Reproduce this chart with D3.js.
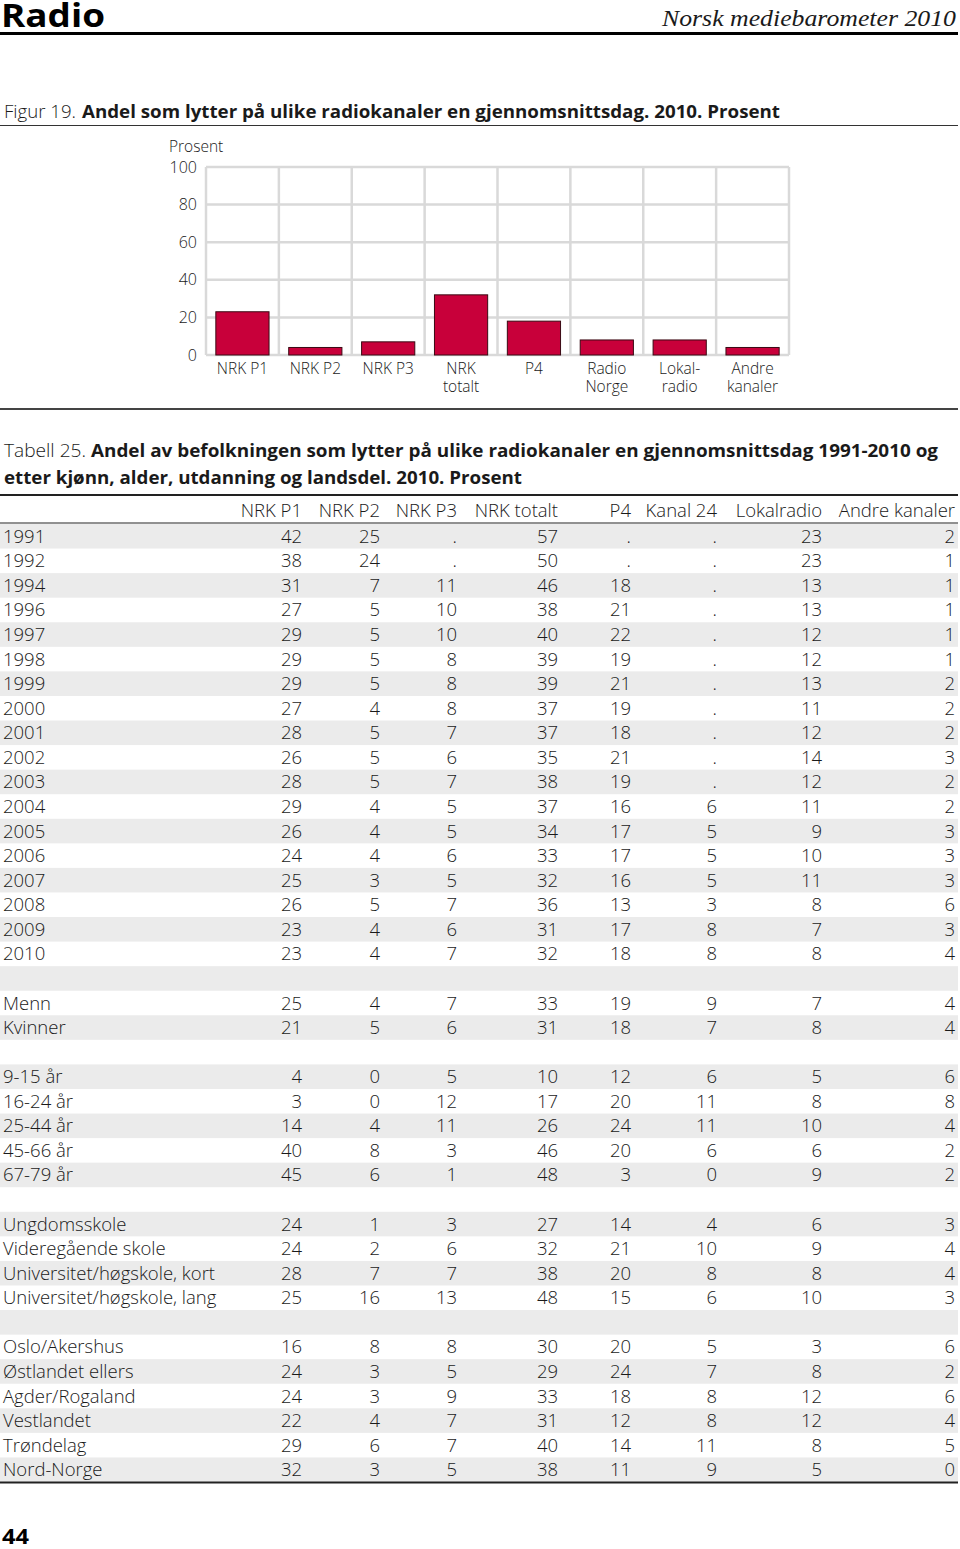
<!DOCTYPE html>
<html><head><meta charset="utf-8">
<script src="https://cdn.jsdelivr.net/npm/d3@7"></script>
<style>
html,body{margin:0;padding:0;background:#fff;}
svg{display:block;}
text{font-family:"Open Sans","DejaVu Sans",sans-serif;fill:#1a1a1a;}
</style></head>
<body>
<svg id="c" width="960" height="1549"></svg>
<script>
// ---------- data ----------
const chartCategories = ["NRK P1","NRK P2","NRK P3","NRK\ntotalt","P4","Radio\nNorge","Lokal-\nradio","Andre\nkanaler"];
const chartValues = [23,4,7,32,18,8,8,4];
const chartTicks = [0,20,40,60,80,100];

const tableColumns = ["NRK P1","NRK P2","NRK P3","NRK totalt","P4","Kanal 24","Lokalradio","Andre kanaler"];
// "" = empty separator row
const rowLabels = ["1991","1992","1994","1996","1997","1998","1999","2000","2001","2002","2003","2004","2005","2006","2007","2008","2009","2010","",
 "Menn","Kvinner","",
 "9-15 år","16-24 år","25-44 år","45-66 år","67-79 år","",
 "Ungdomsskole","Videregående skole","Universitet/høgskole, kort","Universitet/høgskole, lang","",
 "Oslo/Akershus","Østlandet ellers","Agder/Rogaland","Vestlandet","Trøndelag","Nord-Norge"];
// values for non-empty rows, null = "."
const nrkP1     = [42,38,31,27,29,29,29,27,28,26,28,29,26,24,25,26,23,23, 25,21, 4,3,14,40,45, 24,24,28,25, 16,24,24,22,29,32];
const nrkP2     = [25,24,7,5,5,5,5,4,5,5,5,4,4,4,3,5,4,4, 4,5, 0,0,4,8,6, 1,2,7,16, 8,3,3,4,6,3];
const nrkP3     = [null,null,11,10,10,8,8,8,7,6,7,5,5,6,5,7,6,7, 7,6, 5,12,11,3,1, 3,6,7,13, 8,5,9,7,7,5];
const nrkTotalt = [57,50,46,38,40,39,39,37,37,35,38,37,34,33,32,36,31,32, 33,31, 10,17,26,46,48, 27,32,38,48, 30,29,33,31,40,38];
const p4        = [null,null,18,21,22,19,21,19,18,21,19,16,17,17,16,13,17,18, 19,18, 12,20,24,20,3, 14,21,20,15, 20,24,18,12,14,11];
const kanal24   = [null,null,null,null,null,null,null,null,null,null,null,6,5,5,5,3,8,8, 9,7, 6,11,11,6,0, 4,10,8,6, 5,7,8,8,11,9];
const lokalradio= [23,23,13,13,12,12,13,11,12,14,12,11,9,10,11,8,7,8, 7,8, 5,8,10,6,9, 6,9,8,10, 3,8,12,12,8,5];
const andre     = [2,1,1,1,1,1,2,2,2,3,2,2,3,3,3,6,3,4, 4,4, 6,8,4,2,2, 3,4,4,3, 6,2,6,4,5,0];
const seriesByColumn = [nrkP1,nrkP2,nrkP3,nrkTotalt,p4,kanal24,lokalradio,andre];

// ---------- drawing ----------
const svg = d3.select("#c");

// page header
svg.append("text").attr("x",1).attr("y",27).attr("font-size",32).attr("font-weight",700)
  .attr("textLength",104).attr("lengthAdjust","spacingAndGlyphs").style("fill","#000").text("Radio");
svg.append("text").attr("x",956).attr("y",26).attr("text-anchor","end")
  .style("font-family","'Liberation Serif','DejaVu Serif',serif").style("font-style","italic")
  .attr("font-size",23).attr("textLength",294).attr("lengthAdjust","spacingAndGlyphs")
  .text("Norsk mediebarometer 2010");
svg.append("line").attr("x1",0).attr("x2",958).attr("y1",33.5).attr("y2",33.5).attr("stroke","#000").attr("stroke-width",3);

// figure title
svg.append("text").attr("x",4).attr("y",118).attr("font-size",18.5).attr("font-weight",300)
  .attr("textLength",72).attr("lengthAdjust","spacingAndGlyphs").text("Figur 19.");
svg.append("text").attr("x",82).attr("y",118).attr("font-size",18.5).attr("font-weight",700)
  .attr("textLength",698).attr("lengthAdjust","spacingAndGlyphs")
  .text("Andel som lytter på ulike radiokanaler en gjennomsnittsdag. 2010. Prosent");
svg.append("line").attr("x1",0).attr("x2",958).attr("y1",125.5).attr("y2",125.5).attr("stroke","#333").attr("stroke-width",1);

// chart
const cx0 = 206, cx1 = 789, cy0 = 355, cy1 = 167;
const xGrid = d3.scaleBand().domain(d3.range(chartCategories.length)).range([cx0,cx1]).padding(0);
const xBar = d3.scaleBand().domain(d3.range(chartCategories.length)).range([cx0,cx1]).paddingInner(0.27).paddingOuter(0.135);
const y = d3.scaleLinear().domain([0,100]).range([cy0,cy1]);
const grid = svg.append("g");
grid.selectAll("line.h").data(chartTicks).join("line").attr("class","h")
  .attr("x1",cx0).attr("x2",cx1).attr("y1",d=>y(d)).attr("y2",d=>y(d))
  .attr("stroke","#d9d9d9").attr("stroke-width",2.5);
grid.selectAll("line.v").data(d3.range(chartCategories.length+1)).join("line").attr("class","v")
  .attr("x1",d=> d<chartCategories.length ? xGrid(d) : cx1).attr("x2",d=> d<chartCategories.length ? xGrid(d) : cx1)
  .attr("y1",cy0).attr("y2",cy1).attr("stroke","#d9d9d9").attr("stroke-width",2.5);
svg.append("text").attr("x",169).attr("y",152).attr("font-size",15.5).attr("font-weight",300).text("Prosent");
const yAxis = d3.axisLeft(y).tickValues(chartTicks).tickSize(0).tickPadding(0);
const ya = svg.append("g").attr("transform",`translate(197,0)`).call(yAxis);
ya.select(".domain").remove();
ya.selectAll("text").attr("font-size",16).attr("font-weight",300).style("font-family","'Open Sans',sans-serif").attr("fill","#1a1a1a");
svg.append("g").selectAll("rect").data(chartValues).join("rect")
  .attr("x",(d,i)=>xBar(i)).attr("width",xBar.bandwidth())
  .attr("y",d=>y(d)).attr("height",d=>y(0)-y(d))
  .attr("fill","#c8003a").attr("stroke","#3a0a14").attr("stroke-width",1);
const xl = svg.append("g");
chartCategories.forEach((c,i)=>{
  const cxm = xGrid(i)+xGrid.bandwidth()/2;
  c.split("\n").forEach((ln,k)=> xl.append("text").attr("x",cxm).attr("y",374+k*17.5)
    .attr("text-anchor","middle").attr("font-size",15.5).attr("font-weight",300).text(ln));
});
svg.append("line").attr("x1",0).attr("x2",958).attr("y1",409).attr("y2",409).attr("stroke","#444").attr("stroke-width",2);

// table title
svg.append("text").attr("x",4).attr("y",457).attr("font-size",18.5).attr("font-weight",300)
  .attr("textLength",82).attr("lengthAdjust","spacingAndGlyphs").text("Tabell 25.");
svg.append("text").attr("x",91).attr("y",457).attr("font-size",18.5).attr("font-weight",700)
  .attr("textLength",847).attr("lengthAdjust","spacingAndGlyphs")
  .text("Andel av befolkningen som lytter på ulike radiokanaler en gjennomsnittsdag 1991-2010 og");
svg.append("text").attr("x",4).attr("y",484).attr("font-size",18.5).attr("font-weight",700)
  .attr("textLength",518).attr("lengthAdjust","spacingAndGlyphs")
  .text("etter kjønn, alder, utdanning og landsdel. 2010. Prosent");

// table
const colRight = d3.scaleOrdinal().domain(tableColumns).range([302,380,457,558,631,717,822,955]);
svg.append("line").attr("x1",0).attr("x2",958).attr("y1",495).attr("y2",495).attr("stroke","#222").attr("stroke-width",2);
svg.append("g").selectAll("text").data(tableColumns).join("text")
  .attr("x",d=>colRight(d)).attr("y",517).attr("text-anchor","end")
  .attr("font-size",18.5).attr("font-weight",300).text(d=>d);
svg.append("line").attr("x1",0).attr("x2",958).attr("y1",523).attr("y2",523).attr("stroke","#222").attr("stroke-width",1);

const rowY = d3.scaleBand().domain(d3.range(rowLabels.length)).range([524,1482]).padding(0);
const rows = [];
let k = 0;
rowLabels.forEach((lab,i)=>{ rows.push({i, lab, di: lab==="" ? -1 : k}); if(lab!=="") k++; });
const tg = svg.append("g");
tg.selectAll("rect").data(rows.filter(r=>r.i%2===0)).join("rect")
  .attr("x",0).attr("width",958).attr("y",r=>rowY(r.i)).attr("height",rowY.bandwidth()).attr("fill","#ebebeb");
const rg = tg.selectAll("g.row").data(rows.filter(r=>r.di>=0)).join("g").attr("class","row")
  .attr("transform",r=>`translate(0,${rowY(r.i)+rowY.bandwidth()/2+6.5})`);
rg.append("text").attr("x",3).attr("font-size",18.5).attr("font-weight",300).text(r=>r.lab);
tableColumns.forEach((col,ci)=>{
  rg.append("text").attr("x",colRight(col)).attr("text-anchor","end").attr("font-size",18.5).attr("font-weight",300)
    .text(r=>{ const v = seriesByColumn[ci][r.di]; return v===null ? "." : v; });
});
svg.append("line").attr("x1",0).attr("x2",958).attr("y1",1482.5).attr("y2",1482.5).attr("stroke","#222").attr("stroke-width",2);

// page number
svg.append("text").attr("x",2).attr("y",1544).attr("font-size",22).attr("font-weight",700)
  .attr("textLength",27).attr("lengthAdjust","spacingAndGlyphs").style("fill","#000").text("44");
</script>
</body></html>
